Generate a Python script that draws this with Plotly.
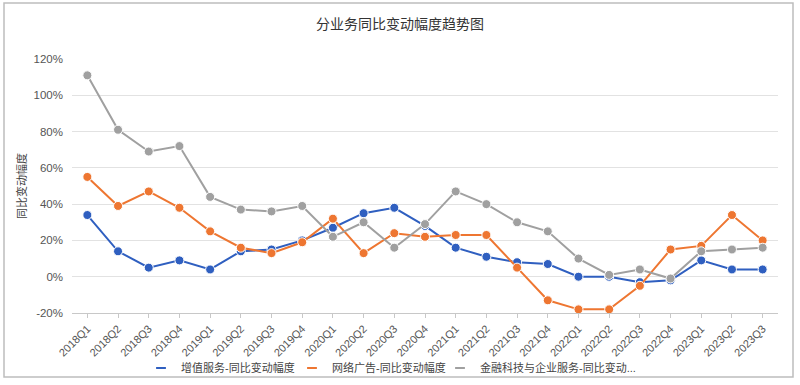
import plotly.graph_objects as go

quarters = ["2018Q1", "2018Q2", "2018Q3", "2018Q4",
            "2019Q1", "2019Q2", "2019Q3", "2019Q4",
            "2020Q1", "2020Q2", "2020Q3", "2020Q4",
            "2021Q1", "2021Q2", "2021Q3", "2021Q4",
            "2022Q1", "2022Q2", "2022Q3", "2022Q4",
            "2023Q1", "2023Q2", "2023Q3"]

vas = [34, 14, 5, 9, 4, 14, 15, 20, 27, 35, 38, 28,
       16, 11, 8, 7, 0, 0, -3, -2, 9, 4, 4]
ads = [55, 39, 47, 38, 25, 16, 13, 19, 32, 13, 24, 22,
       23, 23, 5, -13, -18, -18, -5, 15, 17, 34, 20]
fin = [111, 81, 69, 72, 44, 37, 36, 39, 22, 30, 16, 29,
       47, 40, 30, 25, 10, 1, 4, -1, 14, 15, 16]

names = ["增值服务-同比变动幅度", "网络广告-同比变动幅度", "金融科技与企业服务-同比变动..."]
colors = ["#2f5fc0", "#ee7631", "#a0a0a0"]
series = [vas, ads, fin]

y_ticks = [-20, 0, 20, 40, 60, 80, 100, 120]
y_tick_text = [f"{v}%" for v in y_ticks]

FONT = "Liberation Sans, Noto Sans CJK SC, sans-serif"
W, H = 800, 385
L, R, T, B = 72, 22, 59, 72
PW, PH = W - L - R, H - T - B

fig = go.Figure()
for name, col, vals in zip(names, colors, series):
    fig.add_trace(go.Scatter(
        x=quarters, y=vals, mode="lines+markers", name=name,
        line=dict(color=col, width=2),
        marker=dict(color=col, size=9, line=dict(color="white", width=1)),
        showlegend=False, legendgroup=name,
    ))
legend_ids = ["legend", "legend2", "legend3"]
for name, col, lid in zip(names, colors, legend_ids):
    fig.add_trace(go.Scatter(
        x=[None], y=[None], mode="markers", name=name, legendgroup=name,
        marker=dict(symbol="line-ew", size=7, line=dict(color=col, width=2)),
        showlegend=True, legend=lid,
    ))

legend_left_px = [141, 292, 440]
legend_common = dict(orientation="h", xanchor="left", xref="container", yref="container",
                     y=1 - 368 / H, yanchor="middle", font=dict(size=11, color="#444444"),
                     itemwidth=30, bgcolor="rgba(0,0,0,0)")
legends = {lid: dict(x=px / W, **legend_common)
           for lid, px in zip(legend_ids, legend_left_px)}

fig.update_layout(
    width=W, height=H,
    margin=dict(l=L, r=R, t=T, b=B, autoexpand=False),
    paper_bgcolor="white", plot_bgcolor="white",
    font=dict(family=FONT, size=11, color="#555555"),
    title=dict(text="分业务同比变动幅度趋势图", x=0.5, xref="container",
               y=1 - 24 / H, yref="container", xanchor="center", yanchor="middle",
               font=dict(size=14, color="#333333")),
    xaxis=dict(type="category", range=[-0.5, 22.5], tickangle=-45, automargin=False,
               showgrid=False, showline=True, linecolor="#c8c8c8", linewidth=1,
               ticks="outside", ticklen=4, tickcolor="#c8c8c8",
               tickfont=dict(size=11, color="#555555"), fixedrange=True),
    yaxis=dict(range=[-20, 120], tickvals=y_ticks, ticktext=y_tick_text, automargin=False,
               showgrid=True, gridcolor="#e2e2e2", gridwidth=1, zeroline=False,
               showline=False, ticklabelstandoff=8,
               tickfont=dict(size=11.5, color="#555555"),
               title=dict(text="同比变动幅度", standoff=4,
                          font=dict(size=11, color="#444444"))),
    shapes=[dict(type="rect", xref="paper", yref="paper",
                 x0=(4 - L) / PW, x1=(793 - L) / PW,
                 y0=((H - B) - 377) / PH, y1=((H - B) - 3) / PH,
                 line=dict(color="#bdbdbd", width=1.5), fillcolor="rgba(0,0,0,0)",
                 layer="below")],
    **legends,
)

fig.write_html("out.html", config={"displayModeBar": False},
               post_script="document.body.style.margin='0';document.body.style.overflow='hidden';")
